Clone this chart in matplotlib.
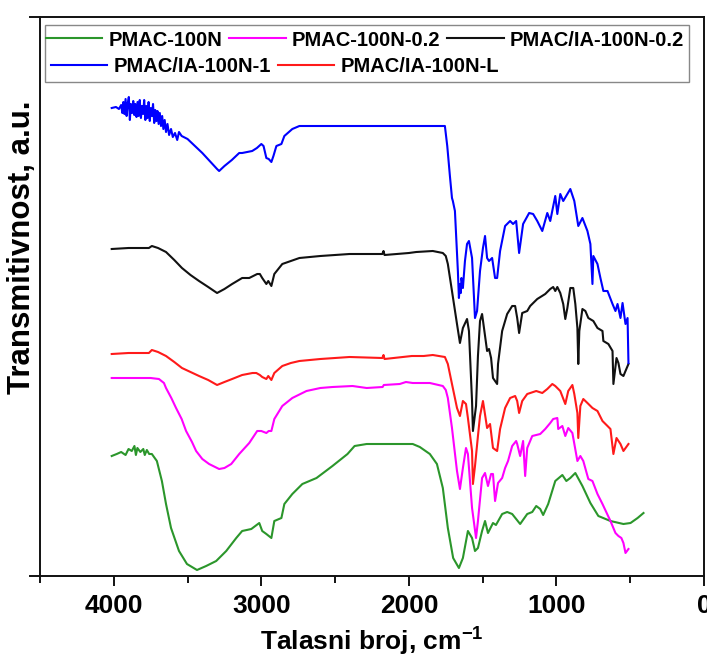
import matplotlib
matplotlib.use("Agg")
import matplotlib.pyplot as plt
from matplotlib.patches import Rectangle
from matplotlib.ticker import MultipleLocator

plt.rcParams['font.family'] = ['Liberation Sans', 'DejaVu Sans']
plt.rcParams['font.weight'] = 'bold'
plt.rcParams['mathtext.fontset'] = 'custom'
plt.rcParams['mathtext.rm'] = 'Liberation Sans'
plt.rcParams['mathtext.bf'] = 'Liberation Sans:bold'

labels = ["PMAC-100N", "PMAC-100N-0.2", "PMAC/IA-100N-0.2", "PMAC/IA-100N-1", "PMAC/IA-100N-L"]
colors = ["#2b962b", "#ff00ff", "#111111", "#0000ff", "#ff1a1a"]

# ---- PMAC-100N (green)
wn_green = [4014, 3980, 3950, 3920, 3900, 3878, 3860, 3850, 3840, 3820, 3800, 3790, 3776, 3760, 3742,
            3708, 3674, 3646, 3612, 3558, 3504, 3436, 3374, 3306, 3238, 3170, 3130, 3068, 3014, 2994,
            2966, 2932, 2912, 2864, 2844, 2790, 2722, 2626, 2518, 2416, 2368, 2286, 1974, 1926, 1858,
            1810, 1770, 1736, 1700, 1661, 1634, 1600, 1572, 1552, 1532, 1504, 1484, 1464, 1430, 1410,
            1368, 1334, 1300, 1246, 1198, 1164, 1137, 1110, 1090, 1056, 1008, 960, 933, 906, 872,
            824, 770, 716, 634, 546, 498, 450, 410]
t_green = [120, 122, 124, 121, 127, 125, 130, 121, 128, 124, 127, 121, 126, 122, 122,
           115, 95, 72, 48, 25, 12, 6, 10, 15, 25, 38, 45, 47, 53, 45,
           42, 38, 55, 58, 72, 82, 92, 98, 110, 122, 130, 132, 132, 129, 122,
           112, 88, 48, 18, 8, 18, 45, 38, 25, 28, 45, 55, 43, 53, 51,
           62, 64, 62, 52, 62, 64, 70, 67, 61, 72, 95, 101, 95, 98, 103,
           90, 73, 60, 55, 52, 53, 58, 63]

# ---- PMAC-100N-0.2 (magenta)
wn_pink = [4014, 3900, 3750, 3694, 3660, 3646, 3610, 3578, 3540, 3510, 3470, 3442, 3400, 3354, 3286,
           3250, 3204, 3150, 3082, 3028, 3000, 2966, 2950, 2932, 2912, 2858, 2790, 2694, 2600, 2518,
           2382, 2286, 2178, 2170, 2062, 2020, 1974, 1858, 1770, 1750, 1736, 1708, 1674, 1654, 1634,
           1613, 1600, 1572, 1545, 1532, 1504, 1484, 1464, 1443, 1430, 1416, 1396, 1368, 1348, 1328,
           1300, 1273, 1266, 1246, 1226, 1212, 1198, 1164, 1110, 1076, 1042, 1022, 994, 988, 960,
           940, 920, 892, 858, 838, 818, 784, 756, 722, 688, 634, 600, 580, 560, 546, 532, 512]
t_pink = [198, 198, 198, 197, 193, 188, 178, 168, 157, 145, 134, 125, 117, 112, 107,
          108, 112, 122, 133, 145, 145, 143, 145, 145, 157, 170, 178, 185, 188, 189,
          190, 188, 189, 191, 192, 194, 193, 193, 190, 186, 178, 148, 105, 87, 108,
          128, 122, 68, 38, 55, 98, 103, 90, 102, 102, 75, 93, 98, 108, 115,
          130, 135, 132, 120, 135, 100, 128, 140, 142, 147, 153, 157, 158, 147, 150,
          140, 148, 143, 115, 120, 115, 97, 95, 82, 72, 55, 43, 40, 38, 33, 23, 27]

# ---- PMAC/IA-100N-0.2 (black)
wn_black = [4014, 3900, 3762, 3742, 3700, 3646, 3590, 3538, 3480, 3422, 3360, 3300, 3250, 3198, 3130,
            3082, 3028, 3010, 2994, 2966, 2953, 2932, 2912, 2858, 2800, 2742, 2600, 2402, 2180, 2172,
            2165, 2000, 1950, 1838, 1770, 1750, 1736, 1708, 1674, 1654, 1634, 1606, 1593, 1572, 1566,
            1545, 1532, 1518, 1504, 1470, 1457, 1443, 1430, 1402, 1396, 1368, 1334, 1300, 1280, 1266,
            1253, 1232, 1198, 1178, 1130, 1076, 1042, 1022, 1008, 994, 974, 954, 940, 926, 906,
            886, 872, 858, 852, 845, 824, 804, 784, 750, 722, 688, 682, 648, 620, 614,
            593, 580, 566, 546, 532, 512]
t_black = [327, 328, 328, 330, 328, 324, 316, 308, 301, 295, 289, 283, 287, 292, 298,
           298, 302, 302, 298, 292, 295, 290, 302, 312, 315, 318, 320, 322, 322, 325,
           321, 323, 324, 325, 323, 320, 312, 285, 252, 233, 248, 257, 245, 175, 145,
           170, 220, 255, 262, 225, 227, 218, 198, 192, 212, 245, 262, 270, 270, 258,
           243, 263, 265, 270, 277, 282, 287, 289, 285, 289, 283, 272, 257, 268, 288,
           288, 272, 248, 212, 245, 267, 265, 258, 255, 248, 245, 235, 232, 225, 192,
           218, 213, 202, 200, 205, 212]

# ---- PMAC/IA-100N-1 (blue)
wn_blue = [4014, 3985, 3965, 3950, 3942, 3935, 3928, 3920, 3913, 3906, 3898, 3891, 3884, 3876, 3868,
           3861, 3854, 3846, 3839, 3831, 3824, 3816, 3809, 3801, 3794, 3786, 3779, 3771, 3764, 3756,
           3749, 3741, 3734, 3726, 3719, 3711, 3704, 3696, 3688, 3680, 3672, 3664, 3655, 3646, 3636,
           3625, 3612, 3600, 3585, 3570, 3558, 3540, 3500, 3450, 3400, 3350, 3300, 3286, 3250, 3200,
           3150, 3130, 3062, 3030, 3000, 2985, 2966, 2950, 2932, 2918, 2898, 2864, 2844, 2790, 2742,
           1756, 1740, 1722, 1708, 1702, 1688, 1668, 1661, 1654, 1648, 1644, 1640, 1634, 1620, 1606,
           1593, 1572, 1552, 1538, 1518, 1498, 1484, 1470, 1457, 1436, 1416, 1402, 1382, 1348, 1314,
           1294, 1273, 1253, 1226, 1185, 1158, 1130, 1096, 1062, 1042, 1008, 994, 974, 954, 906,
           879, 852, 824, 790, 770, 756, 750, 722, 702, 682, 654, 620, 600, 586, 566,
           552, 532, 518, 512]
t_blue = [468, 469, 467, 471, 463, 474, 462, 477, 460, 472, 479, 456, 472, 463, 475,
          461, 472, 459, 474, 460, 476, 458, 470, 462, 476, 456, 470, 458, 474, 455,
          468, 460, 472, 453, 466, 455, 465, 452, 463, 450, 460, 447, 456, 444, 452,
          441, 447, 439, 443, 436, 444, 440, 437, 430, 423, 415, 407, 405, 410, 416,
          423, 423, 425, 428, 432, 430, 418, 417, 414, 420, 430, 432, 440, 447, 450,
          450, 430, 400, 378, 375, 365, 305, 278, 292, 283, 298, 295, 288, 315, 332,
          335, 318, 258, 265, 305, 328, 340, 318, 315, 318, 298, 298, 325, 350, 355,
          352, 355, 323, 352, 363, 362, 355, 345, 363, 355, 380, 362, 382, 375, 387,
          375, 350, 358, 345, 332, 292, 320, 312, 298, 285, 285, 272, 265, 272, 258,
          273, 252, 258, 213]

# ---- PMAC/IA-100N-L (red)
wn_red = [4014, 3900, 3762, 3742, 3700, 3646, 3590, 3538, 3480, 3422, 3360, 3300, 3250, 3198, 3130,
          3060, 3034, 3010, 2994, 2966, 2953, 2932, 2912, 2858, 2800, 2742, 2600, 2402, 2180, 2172,
          2165, 1980, 1900, 1838, 1756, 1736, 1708, 1674, 1654, 1634, 1613, 1600, 1572, 1566, 1552,
          1532, 1518, 1498, 1470, 1450, 1430, 1402, 1382, 1348, 1314, 1280, 1266, 1253, 1232, 1198,
          1137, 1096, 1062, 1028, 1008, 974, 940, 920, 892, 879, 858, 852, 838, 818, 790,
          756, 722, 688, 654, 634, 614, 593, 566, 546, 512]
t_red = [222, 223, 223, 226, 224, 220, 214, 208, 204, 200, 196, 191, 194, 197, 201,
         203, 203, 201, 199, 197, 200, 196, 203, 210, 213, 215, 217, 219, 218, 221,
         217, 220, 220, 221, 219, 212, 192, 168, 160, 175, 172, 158, 125, 92, 110,
         140, 160, 175, 148, 152, 128, 125, 147, 168, 178, 180, 175, 163, 175, 182,
         185, 183, 187, 192, 190, 185, 172, 185, 191, 182, 163, 138, 170, 177, 173,
         168, 165, 155, 150, 147, 122, 138, 132, 125, 132]

series = [(wn_green, t_green), (wn_pink, t_pink), (wn_black, t_black), (wn_blue, t_blue), (wn_red, t_red)]

W, H = 707, 658
fig = plt.figure(figsize=(W / 100, H / 100), dpi=100)
ax = fig.add_axes([40 / W, 1 - 576 / H, (704 - 40) / W, (576 - 17) / H])

handles = []
for (x, y), c, lab in zip(series, colors, labels):
    h, = ax.plot(x, y, color=c, lw=1.5, label=lab)
    handles.append(h)

ax.set_xlim(4500, 0)
ax.set_ylim(0, 559)
ax.xaxis.set_major_locator(MultipleLocator(1000))
ax.xaxis.set_minor_locator(MultipleLocator(500))
ax.tick_params(axis='x', which='major', direction='out', length=7, width=1.3, labelsize=19, pad=6)
ax.tick_params(axis='x', which='minor', direction='out', length=5, width=1.3)
ax.set_yticks([])
for lab in ax.get_xticklabels():
    lab.set_fontweight('bold')
for s in ax.spines.values():
    s.set_linewidth(1.4)
    s.set_color('#111111')
ax.spines['bottom'].set_bounds(4570, 0)
ax.spines['top'].set_bounds(4570, 0)

ax.set_xlabel(r'Talasni broj, cm$^{\mathbf{-1}}$', fontsize=19, fontweight='bold', labelpad=4)
fig.text(22 / W, 1 - 247 / H, 'Transmitivnost, a.u.', rotation=90, fontsize=22.5,
         fontweight='bold', ha='center', va='center')

# legend frame
fig.patches.append(Rectangle((45 / W, 1 - 82 / H), (689 - 45) / W, (82 - 25) / H,
                             transform=fig.transFigure, facecolor='white', edgecolor='#888888',
                             lw=1.0, zorder=5))
leg1 = fig.legend(handles[:3], labels[:3], loc='center left', bbox_to_anchor=(46 / W, 1 - 40 / H),
                  ncol=3, frameon=False, handlelength=2.8, handletextpad=0.3,
                  columnspacing=0.35, borderpad=0, borderaxespad=0, prop={'weight': 'bold', 'size': 14.5})
leg2 = fig.legend(handles[3:], labels[3:], loc='center left', bbox_to_anchor=(51 / W, 1 - 67 / H),
                  ncol=2, frameon=False, handlelength=2.8, handletextpad=0.3,
                  columnspacing=0.35, borderpad=0, borderaxespad=0, prop={'weight': 'bold', 'size': 14.5})
leg1.set_zorder(6)
leg2.set_zorder(6)

fig.savefig('out.png', dpi=100)
